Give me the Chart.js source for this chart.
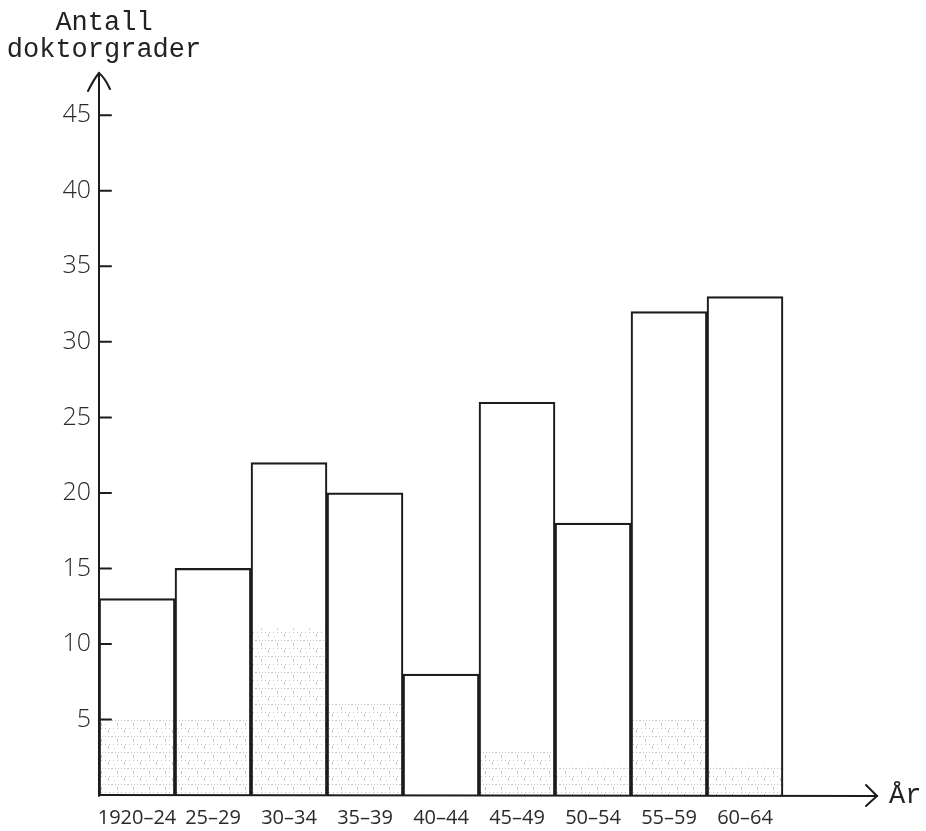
<!DOCTYPE html>
<html>
<head>
<meta charset="utf-8">
<script src="https://cdn.jsdelivr.net/npm/chart.js@4.4.1/dist/chart.umd.min.js"></script>
<style>
  html, body { margin: 0; padding: 0; background: #ffffff; }
  #wrap { width: 926px; height: 831px; }
</style>
</head>
<body>
<div id="wrap"><canvas id="c" width="926" height="831"></canvas></div>
<script>
// ---- data ----
const categories = ['1920\u201324', '25\u201329', '30\u201334', '35\u201339', '40\u201344', '45\u201349', '50\u201354', '55\u201359', '60\u201364'];
const totalDegrees = [13, 15, 22, 20, 8, 26, 18, 32, 33];
const shadedDegrees = [5, 5, 11, 6, 0, 3, 2, 5, 2];
const yTickValues = [5, 10, 15, 20, 25, 30, 35, 40, 45];
const yTitleLines = ['Antall', 'doktorgrader'];
const xTitle = '\u00C5r';

// ---- stipple pattern ----
function makePattern() {
  const p = document.createElement('canvas');
  p.width = 16; p.height = 16;
  const g = p.getContext('2d');
  g.fillStyle = 'rgba(120,120,120,0.45)';
  for (let x = 0; x < 16; x += 3) g.fillRect(x, 0, 1, 1);
  for (let x = 1; x < 16; x += 4) g.fillRect(x, 8, 1, 1);
  g.fillRect(5, 3, 1, 3);
  g.fillRect(12, 10, 1, 3);
  g.fillStyle = 'rgba(150,150,150,0.35)';
  g.fillRect(9, 4, 1, 1);
  g.fillRect(2, 12, 1, 1);
  return document.getElementById('c').getContext('2d').createPattern(p, 'repeat');
}

const ink = '#1c1c1c';

const axesPlugin = {
  id: 'handAxes',
  afterDraw(chart) {
    const ctx = chart.ctx;
    const ys = chart.scales.y;
    const xs = chart.scales.x;
    const x0 = chart.chartArea.left;
    const y0 = ys.getPixelForValue(0);
    ctx.save();
    ctx.strokeStyle = ink;
    ctx.lineWidth = 2;
    ctx.lineCap = 'round';
    // y axis
    const yTop = chart.chartArea.top;
    ctx.beginPath();
    ctx.moveTo(x0, y0 + 1);
    ctx.lineTo(x0, yTop);
    ctx.stroke();
    ctx.beginPath();
    ctx.moveTo(x0 - 11, yTop + 18);
    ctx.quadraticCurveTo(x0 - 5, yTop + 6, x0, yTop);
    ctx.quadraticCurveTo(x0 + 6, yTop + 5, x0 + 11, yTop + 16);
    ctx.stroke();
    // y tick marks
    yTickValues.forEach(v => {
      const py = ys.getPixelForValue(v);
      ctx.beginPath();
      ctx.moveTo(x0, py);
      ctx.lineTo(x0 + 12, py);
      ctx.stroke();
    });
    // x axis
    const xEnd = xs.right + 18;
    ctx.beginPath();
    ctx.moveTo(x0, y0);
    ctx.lineTo(xEnd, y0 + 1);
    ctx.stroke();
    ctx.beginPath();
    ctx.moveTo(xEnd - 11, y0 - 10);
    ctx.lineTo(xEnd, y0 + 1);
    ctx.lineTo(xEnd - 11, y0 + 11);
    ctx.stroke();
    // titles
    ctx.fillStyle = '#222';
    ctx.font = '27px "Liberation Mono", "DejaVu Sans Mono", monospace';
    ctx.textAlign = 'center';
    ctx.textBaseline = 'alphabetic';
    ctx.fillText(yTitleLines[0], 104, 30);
    ctx.fillText(yTitleLines[1], 104, 57);
    ctx.textAlign = 'left';
    ctx.fillText(xTitle, xEnd + 12, 803);
    ctx.restore();
  }
};

const chart = new Chart(document.getElementById('c'), {
  type: 'bar',
  data: {
    labels: categories.concat(['']),
    datasets: [
      {
        label: 'Antall doktorgrader',
        data: totalDegrees,
        backgroundColor: 'rgba(255,255,255,0)',
        borderColor: ink,
        borderWidth: 1.5,
        barPercentage: 1,
        categoryPercentage: 1,
        grouped: false
      },
      {
        label: 'Del',
        data: shadedDegrees,
        backgroundColor: makePattern(),
        borderWidth: 0,
        barPercentage: 1,
        categoryPercentage: 1,
        grouped: false
      }
    ]
  },
  options: {
    responsive: false,
    animation: false,
    devicePixelRatio: 1,
    layout: { padding: { top: 73, right: 67, bottom: 0, left: 0 } },
    plugins: {
      legend: { display: false },
      tooltip: { enabled: false },
      title: { display: false }
    },
    scales: {
      x: {
        type: 'category',
        grid: { display: false },
        border: { display: false },
        ticks: {
          autoSkip: false,
          maxRotation: 0,
          minRotation: 0,
          padding: 3,
          color: '#2a2a2a',
          font: { family: '"Open Sans", "DejaVu Sans", sans-serif', size: 20 }
        },
        afterFit(scale) { scale.height = 36; }
      },
      y: {
        min: 0,
        max: 47.8,
        grid: { display: false },
        border: { display: false },
        ticks: {
          stepSize: 5,
          includeBounds: false,
          padding: 0,
          color: '#2a2a2a',
          font: { family: '"Open Sans", "DejaVu Sans", sans-serif', size: 25, weight: '300' },
          callback: (v) => yTickValues.includes(v) ? String(v) : ''
        },
        afterFit(scale) { scale.width = 99; }
      }
    }
  },
  plugins: [axesPlugin]
});
</script>
</body>
</html>
